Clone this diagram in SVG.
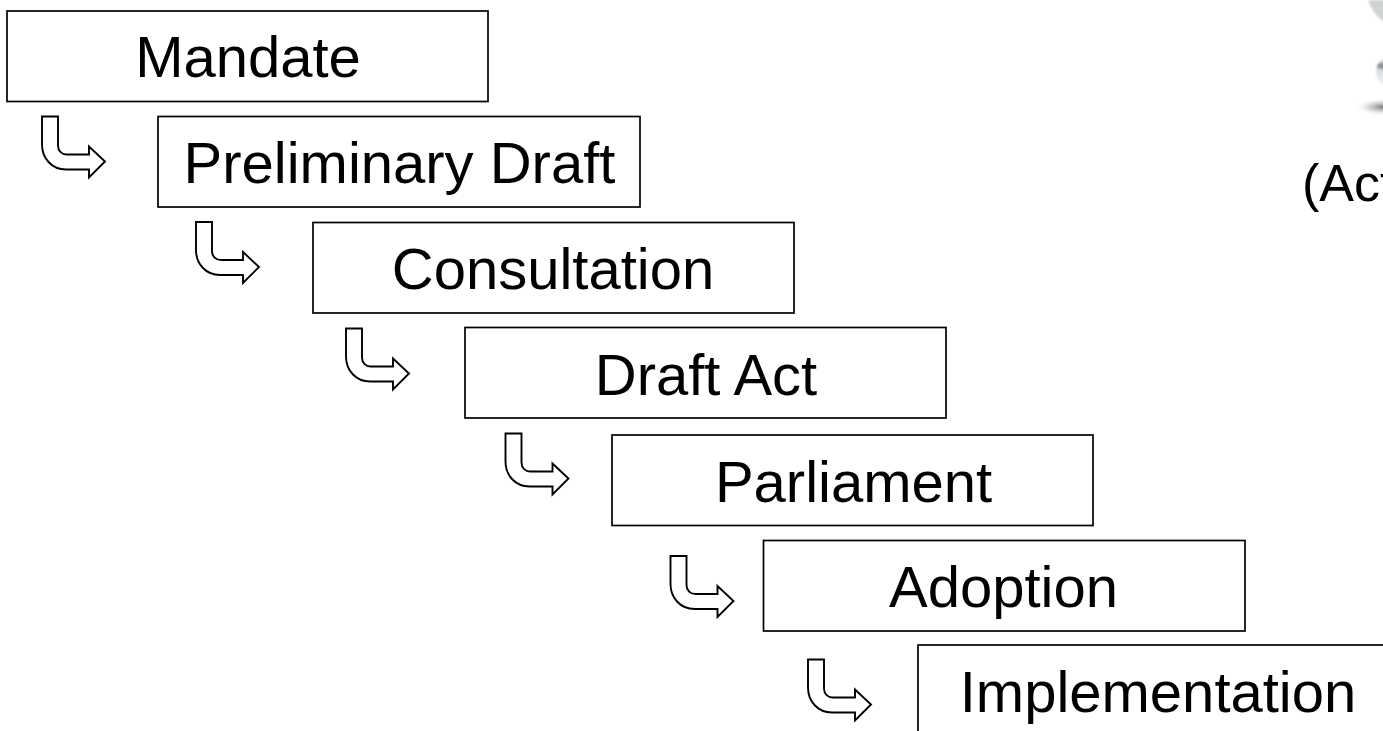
<svg xmlns="http://www.w3.org/2000/svg" width="1383" height="731" viewBox="0 0 1383 731">
<style>
.box{fill:#fff;stroke:#000;stroke-width:1.7}
.arrow{fill:#fff;stroke:#000;stroke-width:1.9;stroke-linejoin:miter}
.label{font-family:"Liberation Sans",Arial,sans-serif;font-size:58px;fill:#000;text-anchor:middle}
</style>
<defs>
<path id="bent" d="M0 0H16V29C16 34.500 20 38 25 38H47V30L63 45L47 61V53H24C10 53 0 42 0 28Z"/>
<radialGradient id="shadow"><stop offset="0" stop-color="#7a7a7a"/><stop offset="0.5" stop-color="#bbb" stop-opacity=".6"/><stop offset="1" stop-color="#fff" stop-opacity="0"/></radialGradient>
<linearGradient id="ball" x1="0" y1="0" x2="0" y2="1"><stop offset="0" stop-color="#c8cccc"/><stop offset="1" stop-color="#f4f6f6"/></linearGradient>
<filter id="soft" x="-30%" y="-30%" width="160%" height="160%"><feGaussianBlur stdDeviation="0.8"/></filter>
</defs>
<rect width="1383" height="731" fill="#fff"/>
<g id="globe">
<ellipse cx="1383" cy="107" rx="28" ry="9" fill="url(#shadow)"/>
<ellipse cx="1393" cy="72" rx="17" ry="16" fill="url(#ball)" filter="url(#soft)"/>
<ellipse cx="1382" cy="66" rx="5" ry="3" fill="#8a9496" filter="url(#soft)"/>
<path d="M1368 0C1371 9 1376 16 1385 23V0Z" fill="#d0d3d3" filter="url(#soft)"/>
</g>
<g id="connectors">
<use href="#bent" x="42" y="116.500" class="arrow"/>
<use href="#bent" x="196" y="222" class="arrow"/>
<use href="#bent" x="346" y="328.500" class="arrow"/>
<use href="#bent" x="505.500" y="433.500" class="arrow"/>
<use href="#bent" x="670.500" y="556" class="arrow"/>
<use href="#bent" x="808" y="659.500" class="arrow"/>
</g>
<g id="mandate"><rect class="box" x="7" y="11" width="481" height="90.500"/><text class="label" x="248" y="77">Mandate</text></g>
<g id="preliminary-draft"><rect class="box" x="158" y="116.500" width="482" height="90.500"/><text class="label" x="399.500" y="183">Preliminary Draft</text></g>
<g id="consultation"><rect class="box" x="313" y="222.500" width="481" height="90.500"/><text class="label" x="553" y="289">Consultation</text></g>
<g id="draft-act"><rect class="box" x="465" y="327.500" width="481" height="90.500"/><text class="label" x="706" y="395">Draft Act</text></g>
<g id="parliament"><rect class="box" x="612" y="435" width="481" height="90.500"/><text class="label" x="853.500" y="502">Parliament</text></g>
<g id="adoption"><rect class="box" x="763.500" y="540.500" width="481.500" height="90.500"/><text class="label" x="1003.500" y="607">Adoption</text></g>
<g id="implementation"><rect class="box" x="918" y="645" width="481" height="100"/><text class="label" x="1158" y="712">Implementation</text></g>
<g id="act-note"><text x="1302" y="201" font-family="&quot;Liberation Sans&quot;,Arial,sans-serif" font-size="52">(Act</text></g>
</svg>
